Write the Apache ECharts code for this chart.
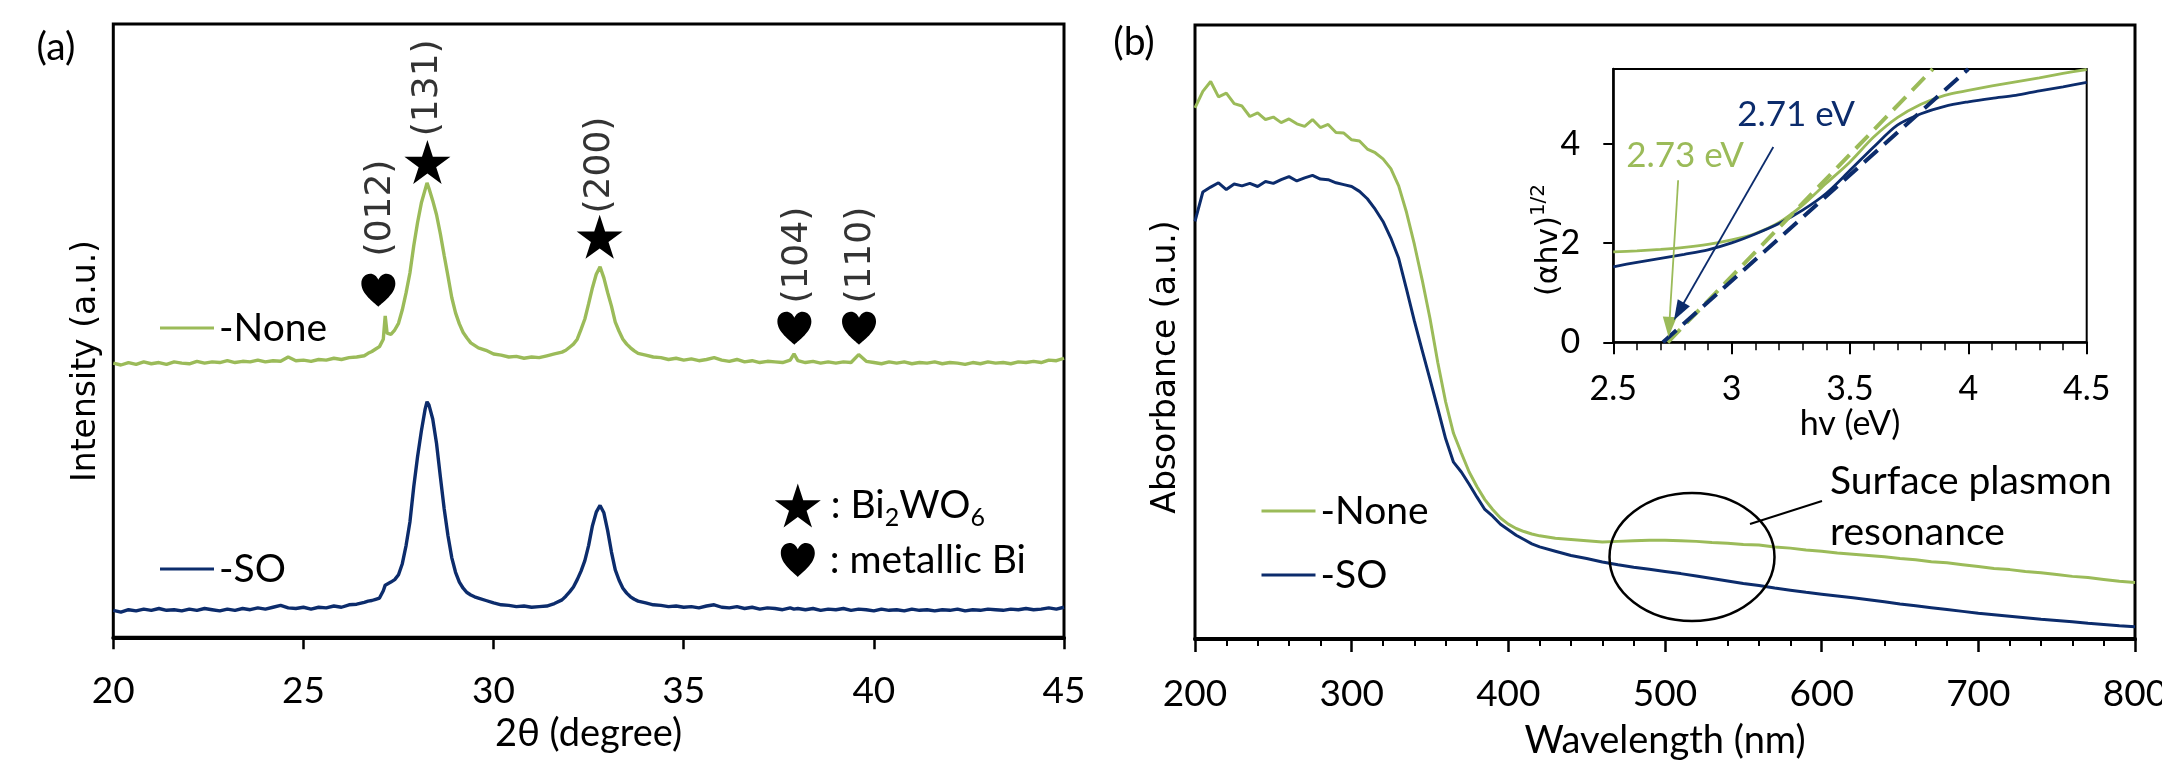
<!DOCTYPE html>
<html>
<head>
<meta charset="utf-8">
<script src="https://cdn.jsdelivr.net/npm/echarts@6/dist/echarts.min.js"></script>
<style>
  html, body { margin: 0; padding: 0; background: #fff; }
  #chart { width: 2162px; height: 763px; }
</style>
</head>
<body>
<div id="chart"></div>
<script>
// (a) XRD patterns, intensity in arbitrary units (curves offset)
const twoTheta = [
  20.0, 20.2, 20.4, 20.6, 20.8, 21.0, 21.2, 21.4, 21.6, 21.8,
  22.0, 22.2, 22.4, 22.6, 22.8, 23.0, 23.2, 23.4, 23.6, 23.8,
  24.0, 24.2, 24.4, 24.6, 24.8, 25.0, 25.2, 25.4, 25.6, 25.8,
  26.0, 26.2, 26.4, 26.6,
  26.7, 26.8, 26.9, 27.0, 27.1, 27.15, 27.2, 27.3, 27.4, 27.5,
  27.6, 27.7, 27.8, 27.9, 28.0, 28.1, 28.2, 28.25, 28.3, 28.4,
  28.5, 28.6, 28.7, 28.8, 28.9, 29.0, 29.1, 29.2, 29.3, 29.4,
  29.5, 29.6,
  29.8, 30.0, 30.2, 30.4, 30.6, 30.8, 31.0, 31.2, 31.4, 31.6, 31.8,
  31.9, 32.0, 32.1, 32.2, 32.3, 32.4, 32.5, 32.6, 32.7, 32.8,
  32.9, 33.0, 33.1, 33.2, 33.3, 33.4, 33.5, 33.6, 33.7, 33.8,
  34.0, 34.2, 34.4, 34.6, 34.8, 35.0, 35.2, 35.4, 35.6, 35.8,
  36.0, 36.2, 36.4, 36.6, 36.8, 37.0, 37.2, 37.4, 37.6, 37.8,
  37.9,
  38.0, 38.2, 38.4, 38.6, 38.8, 39.0, 39.2, 39.4, 39.6, 39.8,
  40.0, 40.2, 40.4, 40.6, 40.8, 41.0, 41.2, 41.4, 41.6, 41.8,
  42.0, 42.2, 42.4, 42.6, 42.8, 43.0, 43.2, 43.4, 43.6, 43.8,
  44.0, 44.2, 44.4, 44.6, 44.8, 45.0
];
const xrdNone = [
  44.7, 44.4, 44.8, 44.5, 44.9, 44.6, 44.8, 44.5, 44.9, 44.7,
  44.6, 45.0, 44.7, 44.9, 44.8, 45.1, 44.8, 45.0, 44.9, 45.2,
  44.9, 45.1, 45.0, 45.7, 45.1, 45.2, 45.0, 45.3, 45.2, 45.5,
  45.3, 45.6, 45.7, 45.9,
  46.3, 46.6, 47.0, 47.4, 48.6, 52.4, 49.6, 49.4, 50.1, 51.2,
  53.4, 56.2, 59.4, 63.8, 67.6, 70.8, 73.0, 74.1, 73.2, 71.2,
  68.9, 65.8, 62.3, 58.9, 55.4, 52.9, 51.1, 49.7, 48.8, 48.0,
  47.6, 47.2,
  46.8, 46.2, 46.0, 45.7, 45.8, 45.5, 45.7, 45.6, 45.9, 46.2, 46.5,
  46.8, 47.3, 47.8, 48.6, 50.2, 51.9, 54.4, 57.0, 59.2, 60.4,
  58.6, 56.2, 54.0, 51.4, 49.9, 48.6, 47.8, 47.2, 46.7, 46.3,
  46.0, 45.7, 45.6, 45.3, 45.5, 45.2, 45.4, 45.1, 45.3, 45.6,
  45.2, 45.0, 45.3, 44.9, 45.1, 44.8, 45.0, 44.9, 44.8, 45.2,
  46.2,
  45.1, 44.8, 45.0, 44.7, 44.9, 44.7, 44.9, 44.8, 46.1, 45.0,
  44.8, 44.6, 44.9, 44.7, 44.9, 44.6, 44.8, 44.7, 44.9, 44.6,
  44.8, 44.7, 44.5, 44.8, 44.6, 44.9, 44.7, 44.8, 44.6, 44.9,
  44.8, 45.0, 44.8, 45.2, 45.1, 45.5
];
const xrdSO = [
  4.4, 4.1, 4.5, 4.3, 4.6, 4.4, 4.7, 4.4, 4.5, 4.3,
  4.6, 4.4, 4.7, 4.5, 4.3, 4.6, 4.4, 4.7, 4.5, 4.8,
  4.6, 4.9, 5.2, 4.8, 4.7, 4.9, 4.6, 4.9, 4.8, 5.1,
  4.9, 5.3, 5.4, 5.7,
  5.9, 6.0, 6.2, 6.4, 7.6, 8.5, 8.8, 9.0, 9.4, 10.2,
  12.0, 15.0, 18.8, 24.5, 29.4, 33.6, 37.2, 38.4, 37.9, 35.6,
  31.6, 26.2, 21.0, 16.6, 13.0, 10.6, 9.0, 8.0, 7.3, 6.9,
  6.6, 6.4,
  6.0, 5.6, 5.3, 5.2, 5.0, 5.1, 4.9, 5.0, 5.1, 5.5, 6.1,
  6.7, 7.4, 8.2, 9.4, 10.8, 12.5, 15.0, 18.2, 20.4, 21.5,
  20.3, 17.4, 13.9, 11.0, 9.3, 8.0, 7.2, 6.6, 6.2, 5.9,
  5.6, 5.3, 5.2, 5.0, 5.1, 4.9, 5.0, 4.8, 5.1, 5.3,
  4.9, 4.8, 5.0, 4.7, 4.9, 4.6, 4.8, 4.7, 4.5, 4.8,
  4.6,
  4.7, 4.5, 4.7, 4.4, 4.6, 4.5, 4.7, 4.4, 4.6, 4.5,
  4.3, 4.6, 4.4, 4.5, 4.3, 4.6, 4.4, 4.5, 4.3, 4.5,
  4.4, 4.6, 4.3, 4.5, 4.4, 4.6, 4.5, 4.4, 4.6, 4.5,
  4.7, 4.5, 4.6, 4.8, 4.6, 4.9
];

// peak markers and Miller indices (2θ, height in the same units)
const starAngle = [28.26, 32.79];
const starY = [77.5, 65.3];
const heartAngle = [26.97, 37.91, 39.61];
const heartY = [56.6, 50.4, 50.4];
const millerAngle = [27.02, 28.27, 32.78, 38.0, 39.66];
const millerY = [70.0, 89.6, 77.0, 62.3, 62.3];
const millerText = ['(012)', '(131)', '(200)', '(104)', '(110)'];

// (b) UV-vis absorbance
const wavelength = [
  200, 205, 210, 215, 220, 225, 230, 235, 240, 245,
  250, 255, 260, 265, 270, 275, 280, 285, 290, 295,
  300, 305, 310, 315, 320, 325, 330, 335, 340, 345,
  350, 355, 360, 365, 370, 375, 380, 385, 390, 395,
  400, 405, 410, 415,
  420, 430, 440, 450, 460, 470, 480, 490, 500, 510,
  520, 530, 540, 550, 560, 570, 580, 590, 600, 610,
  620, 630, 640, 650, 660, 670, 680, 690, 700, 710,
  720, 730, 740, 750, 760, 770, 780, 790, 800
];
const absNone = [
  86.5, 89.2, 90.8, 88.3, 88.9, 87.2, 86.8, 85.1, 85.7, 84.6,
  85.0, 84.1, 84.7, 83.9, 83.5, 84.6, 83.3, 83.8, 82.5, 82.4,
  81.3, 81.1, 79.8, 79.2, 78.2, 76.6, 73.8, 69.5, 64.3, 58.5,
  52.2, 45.0, 38.6, 33.5, 30.3, 27.2, 24.8, 22.7, 21.1, 19.7,
  18.7, 18.0, 17.5, 17.1,
  16.8, 16.4, 16.2, 16.0, 15.8, 15.9, 16.0, 16.1, 16.1, 16.0,
  15.9, 15.7, 15.6, 15.4, 15.3, 15.0, 14.8, 14.5, 14.3, 14.0,
  13.8, 13.6, 13.4, 13.1, 12.9, 12.6, 12.4, 12.1, 11.8, 11.5,
  11.3, 11.0, 10.8, 10.5, 10.2, 10.0, 9.7, 9.4, 9.2
];
const absSO = [
  68.0, 72.8, 73.6, 74.3, 73.2, 74.1, 73.8, 74.2, 73.7, 74.5,
  74.2, 74.8, 75.3, 74.6, 75.1, 75.5, 74.9, 74.8, 74.3, 74.0,
  73.7, 72.9, 71.7, 70.0, 68.0, 65.3, 62.0, 57.0, 51.8, 47.0,
  42.3, 37.5, 32.6, 28.8, 27.2, 25.2, 23.1, 21.1, 20.0, 18.7,
  17.8, 16.9, 16.2, 15.5,
  15.0, 14.3, 13.6, 13.1, 12.55, 12.1, 11.7, 11.35, 11.0, 10.65,
  10.25, 9.85, 9.45, 9.05, 8.7, 8.3, 7.95, 7.6, 7.3, 7.0,
  6.7, 6.4, 6.05, 5.7, 5.4, 5.1, 4.8, 4.5, 4.2, 3.95,
  3.7, 3.45, 3.2, 3.0, 2.8, 2.55, 2.35, 2.15, 2.0
];

// inset: Tauc plot
const energyEV = [2.5, 2.6, 2.7, 2.8, 2.9, 3.0, 3.1, 3.2, 3.3, 3.4, 3.5,
  3.6, 3.7, 3.8, 3.9, 4.0, 4.1, 4.2, 4.3, 4.4, 4.5];
const taucNone = [1.82, 1.84, 1.87, 1.91, 1.97, 2.06, 2.19, 2.41, 2.76, 3.20, 3.63,
  4.13, 4.52, 4.79, 4.97, 5.07, 5.16, 5.24, 5.32, 5.41, 5.49];
const taucSO = [1.52, 1.61, 1.69, 1.77, 1.86, 2.00, 2.18, 2.39, 2.66, 3.00, 3.46,
  3.93, 4.37, 4.60, 4.75, 4.84, 4.91, 4.97, 5.06, 5.14, 5.23];
const fitNone = [[2.73, 0], [3.85, 5.5]];
const fitSO = [[2.71, 0], [4.0, 5.5]];
const arrowNone = [[2.774, 3.26], [2.736, 0.31]];
const arrowSO = [[3.176, 3.93], [2.777, 0.62]];
const taucYTicks = [0, 2, 4];

const GREEN = '#9bbb59';
const NAVY = '#0c2c6c';
const FONT = 'Lato, "Liberation Sans", sans-serif';
const WIDE = '"DejaVu Sans", Verdana, sans-serif';
const STAR = 'path://M50,0 L61.23,34.55 L97.55,34.55 L68.17,55.9 L79.39,90.45 L50,69.1 L20.61,90.45 L31.83,55.9 L2.45,34.55 L38.77,34.55 Z';
const HEART = 'path://M50,92 C38,80 4,58 4,30 C4,14 15,4 28,4 C38,4 46,11 50,20 C54,11 62,4 72,4 C85,4 96,14 96,30 C96,58 62,80 50,92 Z';

const pairs = (xs, ys) => xs.map((x, i) => [x, ys[i]]);

const chart = echarts.init(document.getElementById('chart'));

const tickStyle = { color: '#000', width: 2.5 };
const labelStyle = { color: '#000', fontFamily: FONT, fontSize: 37 };
const nameStyle = { color: '#000', fontFamily: FONT, fontSize: 38 };

// arrowheads: small triangles at the arrow tips, turned along each arrow
function arrowHead(arrow, color) {
  return { value: arrow[1], from: arrow[0], itemStyle: { color: color, opacity: 1 } };
}

const option = {
  animation: false,
  backgroundColor: '#fff',
  grid: [
    { left: 113.3, top: 24, right: 1098, bottom: 125.7, show: true, borderColor: '#000', borderWidth: 3, outerBoundsMode: 'none' },
    { left: 1195, top: 25, right: 27, bottom: 124, show: true, borderColor: '#000', borderWidth: 3, outerBoundsMode: 'none' },
    { left: 1613.3, top: 69, right: 75.3, bottom: 420.7, show: true, borderColor: '#000', borderWidth: 2, backgroundColor: '#fff', outerBoundsMode: 'none' }
  ],
  xAxis: [
    {
      gridIndex: 0, type: 'value', min: 20, max: 45, interval: 5,
      name: '2θ (degree)', nameLocation: 'middle', nameGap: 77, nameTextStyle: nameStyle,
      axisLine: { lineStyle: { color: '#000', width: 4 } },
      axisTick: { length: 12, lineStyle: tickStyle },
      axisLabel: Object.assign({ margin: 35 }, labelStyle),
      splitLine: { show: false }
    },
    {
      gridIndex: 1, type: 'value', min: 200, max: 800, interval: 100,
      name: 'Wavelength (nm)', nameLocation: 'middle', nameGap: 83, nameTextStyle: nameStyle,
      axisLine: { lineStyle: { color: '#000', width: 4 } },
      axisTick: { length: 13, lineStyle: tickStyle },
      minorTick: { show: true, splitNumber: 5, length: 7, lineStyle: { color: '#000', width: 2 } },
      axisLabel: Object.assign({ margin: 37 }, labelStyle),
      splitLine: { show: false }
    },
    {
      gridIndex: 2, type: 'value', min: 2.5, max: 4.5, interval: 0.5,
      name: 'hv (eV)', nameLocation: 'middle', nameGap: 59,
      nameTextStyle: { color: '#000', fontFamily: FONT, fontSize: 34 },
      axisLine: { lineStyle: { color: '#000', width: 2.5 } },
      axisTick: { length: 12, lineStyle: { color: '#000', width: 2 } },
      minorTick: { show: true, splitNumber: 5, length: 8, lineStyle: { color: '#000', width: 1.5 } },
      axisLabel: { margin: 30, color: '#000', fontFamily: FONT, fontSize: 34 },
      splitLine: { show: false }
    }
  ],
  yAxis: [
    { gridIndex: 0, type: 'value', min: 0, max: 100, show: false },
    { gridIndex: 1, type: 'value', min: 0, max: 100, show: false },
    {
      gridIndex: 2, type: 'value', min: 0, max: 5.5, interval: 2,
      axisLine: { show: true, lineStyle: { color: '#000', width: 2.5 } },
      axisTick: { show: true, length: 10, customValues: taucYTicks, lineStyle: { color: '#000', width: 2 } },
      axisLabel: { margin: 33, color: '#000', fontFamily: FONT, fontSize: 34, customValues: taucYTicks },
      splitLine: { show: false }
    }
  ],
  legend: [
    { data: ['-None'], left: 160, top: 308 },
    { data: ['-SO'], left: 160, top: 549 },
    { data: ['-None'], left: 1261.5, top: 491 },
    { data: ['-SO'], left: 1261.5, top: 555 }
  ].map(l => Object.assign({
    padding: 0, icon: 'rect', itemWidth: 54, itemHeight: 3, selectedMode: false,
    textStyle: { color: '#000', fontFamily: FONT, fontSize: 39, lineHeight: 40 }
  }, l)),
  series: [
    {
      name: '-None', type: 'line', xAxisIndex: 0, yAxisIndex: 0, symbol: 'none',
      data: pairs(twoTheta, xrdNone), color: GREEN, lineStyle: { width: 3.4 }
    },
    {
      name: '-SO', type: 'line', xAxisIndex: 0, yAxisIndex: 0, symbol: 'none',
      data: pairs(twoTheta, xrdSO), color: NAVY, lineStyle: { width: 3.4 }
    },
    {
      name: 'markers', type: 'scatter', xAxisIndex: 0, yAxisIndex: 0, silent: true, z: 5,
      itemStyle: { color: '#000', opacity: 1 },
      data: starAngle.map((t, i) => ({ value: [t, starY[i]], symbol: STAR, symbolSize: [46, 44] }))
        .concat(heartAngle.map((t, i) => ({ value: [t, heartY[i]], symbol: HEART, symbolSize: [34, 33] })))
    },
    {
      name: 'indices', type: 'scatter', xAxisIndex: 0, yAxisIndex: 0, silent: true, z: 5,
      symbolSize: 1, itemStyle: { color: 'rgba(0,0,0,0)' },
      data: pairs(millerAngle, millerY),
      label: {
        show: true, position: 'inside', rotate: 90, color: '#000',
        fontFamily: WIDE, fontSize: 36,
        formatter: p => millerText[p.dataIndex]
      }
    },
    {
      name: 'key', type: 'scatter', xAxisIndex: 0, yAxisIndex: 0, silent: true, z: 5,
      itemStyle: { color: '#000', opacity: 1 },
      label: {
        show: true, position: 'right', color: '#000', fontFamily: FONT, fontSize: 39, lineHeight: 50,
        rich: { s: { fontFamily: FONT, fontSize: 25, lineHeight: 24, verticalAlign: 'bottom', color: '#000' } }
      },
      data: [
        { value: [38.0, 21.5], symbol: STAR, symbolSize: [46, 44], label: { distance: 10, formatter: ': Bi{s|2}WO{s|6}' } },
        { value: [38.0, 12.6], symbol: HEART, symbolSize: [34, 34], label: { distance: 15, formatter: ': metallic Bi' } }
      ]
    },
    {
      name: '-None', type: 'line', xAxisIndex: 1, yAxisIndex: 1, symbol: 'none',
      data: pairs(wavelength, absNone), color: GREEN, lineStyle: { width: 3 }
    },
    {
      name: '-SO', type: 'line', xAxisIndex: 1, yAxisIndex: 1, symbol: 'none',
      data: pairs(wavelength, absSO), color: NAVY, lineStyle: { width: 3 }
    },
    {
      name: 'Tauc None', type: 'line', xAxisIndex: 2, yAxisIndex: 2, symbol: 'none', smooth: 0.3,
      data: pairs(energyEV, taucNone), color: GREEN, lineStyle: { width: 2.8 }
    },
    {
      name: 'Tauc SO', type: 'line', xAxisIndex: 2, yAxisIndex: 2, symbol: 'none', smooth: 0.3,
      data: pairs(energyEV, taucSO), color: NAVY, lineStyle: { width: 2.8 }
    },
    {
      name: 'fit None', type: 'line', xAxisIndex: 2, yAxisIndex: 2, symbol: 'none',
      data: fitNone, color: GREEN, lineStyle: { width: 4, type: [18, 9] }
    },
    {
      name: 'fit SO', type: 'line', xAxisIndex: 2, yAxisIndex: 2, symbol: 'none',
      data: fitSO, color: NAVY, lineStyle: { width: 4, type: [18, 9] }
    },
    {
      name: 'arrow None', type: 'line', xAxisIndex: 2, yAxisIndex: 2, symbol: 'none', z: 6,
      data: arrowNone, color: GREEN, lineStyle: { width: 1.8 }
    },
    {
      name: 'arrow SO', type: 'line', xAxisIndex: 2, yAxisIndex: 2, symbol: 'none', z: 6,
      data: arrowSO, color: NAVY, lineStyle: { width: 1.8 }
    },
    {
      name: 'arrow heads', type: 'scatter', xAxisIndex: 2, yAxisIndex: 2, silent: true, z: 7,
      symbol: 'triangle', symbolSize: [14, 20],
      data: [arrowHead(arrowNone, GREEN), arrowHead(arrowSO, NAVY)]
    }
  ],
  graphic: [
    { type: 'text', x: 56, y: 47, style: { text: '(a)', fontFamily: FONT, fontSize: 39, fill: '#000', align: 'center', verticalAlign: 'middle' } },
    { type: 'text', x: 1134, y: 42, style: { text: '(b)', fontFamily: FONT, fontSize: 39, fill: '#000', align: 'center', verticalAlign: 'middle' } },
    { type: 'text', x: 86, y: 361, rotation: Math.PI / 2, style: { text: 'Intensity (a.u.)', fontFamily: WIDE, fontSize: 33, fill: '#000', align: 'center', verticalAlign: 'middle' } },
    { type: 'text', x: 1166, y: 367, rotation: Math.PI / 2, style: { text: 'Absorbance (a.u.)', fontFamily: WIDE, fontSize: 33, fill: '#000', align: 'center', verticalAlign: 'middle' } },
    {
      type: 'text', x: 1549, y: 240, rotation: Math.PI / 2,
      style: {
        text: '(αhv){sup|1/2}', fontFamily: WIDE, fontSize: 30, lineHeight: 40, fill: '#000', align: 'center', verticalAlign: 'middle',
        rich: { sup: { fontFamily: WIDE, fontSize: 20, lineHeight: 20, verticalAlign: 'top', fill: '#000' } }
      }
    },
    { type: 'text', x: 1796, y: 115, z: 10, style: { text: '2.71 eV', fontFamily: FONT, fontSize: 35, fill: NAVY, align: 'center', verticalAlign: 'middle' } },
    { type: 'text', x: 1685, y: 156, z: 10, style: { text: '2.73 eV', fontFamily: FONT, fontSize: 35, fill: GREEN, align: 'center', verticalAlign: 'middle' } },
    { type: 'ellipse', z: 10, shape: { cx: 1692, cy: 557, rx: 82.5, ry: 64 }, style: { fill: 'none', stroke: '#000', lineWidth: 2.5 } },
    { type: 'line', z: 10, shape: { x1: 1750, y1: 524, x2: 1822, y2: 501 }, style: { stroke: '#000', lineWidth: 2 } },
    { type: 'text', x: 1830, y: 507, z: 10, style: { text: 'Surface plasmon\nresonance', fontFamily: FONT, fontSize: 39, lineHeight: 51, fill: '#000', align: 'left', verticalAlign: 'middle' } }
  ]
};

chart.setOption(option);

// turn each arrowhead along its arrow, using the pixel positions from the inset axes
const heads = option.series[option.series.length - 1].data.map(d => {
  const a = chart.convertToPixel({ xAxisIndex: 2, yAxisIndex: 2 }, d.from);
  const b = chart.convertToPixel({ xAxisIndex: 2, yAxisIndex: 2 }, d.value);
  // triangle points up by default; screen y grows downwards
  const ang = Math.atan2(b[0] - a[0], a[1] - b[1]) * 180 / Math.PI;
  return { value: d.value, itemStyle: d.itemStyle, symbolRotate: -ang, symbolOffset: [0, 0] };
});
chart.setOption({ series: [{ name: 'arrow heads', data: heads }] });
</script>
